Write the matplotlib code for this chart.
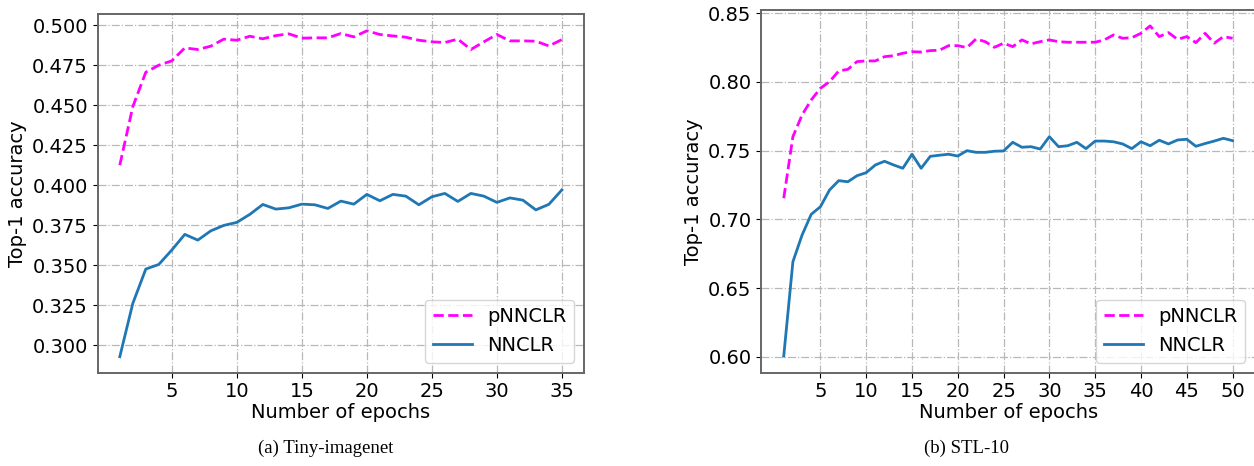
import numpy as np
import matplotlib
matplotlib.use("Agg")
import matplotlib.pyplot as plt

# Tiny-imagenet (35 epochs)
tiny_epochs = list(range(1, 36))
tiny_pnnclr = [0.4125, 0.449, 0.4706, 0.475, 0.4777, 0.4858, 0.4848, 0.4869, 0.4913, 0.4906,
               0.4931, 0.4915, 0.4935, 0.4946, 0.4919, 0.4921, 0.4921, 0.4948, 0.4927, 0.4965,
               0.4942, 0.4933, 0.4925, 0.4906, 0.4896, 0.4892, 0.4913, 0.4848, 0.4896, 0.4942,
               0.4902, 0.4902, 0.4900, 0.4870, 0.4910]
tiny_nnclr = [0.2927, 0.326, 0.3475, 0.3504, 0.3594, 0.3692, 0.3656, 0.3714, 0.3748, 0.3767,
              0.3817, 0.3879, 0.3850, 0.3858, 0.3881, 0.3877, 0.3854, 0.3900, 0.3881, 0.3942,
              0.3902, 0.3942, 0.3931, 0.3877, 0.3927, 0.3948, 0.3898, 0.3948, 0.3931, 0.3892,
              0.3920, 0.3906, 0.3845, 0.3880, 0.3970]

# STL-10 (50 epochs)
stl_epochs = list(range(1, 51))
stl_pnnclr = [0.7154, 0.7602, 0.776, 0.7869, 0.7954, 0.8002, 0.808, 0.8092, 0.8148, 0.8153,
              0.8153, 0.8184, 0.8191, 0.8209, 0.822, 0.8218, 0.8228, 0.8231, 0.8264, 0.8264,
              0.825, 0.8313, 0.8293, 0.8252, 0.8282, 0.8257, 0.8306, 0.8277, 0.8293, 0.8306,
              0.8293, 0.8289, 0.8289, 0.8289, 0.8289, 0.8306, 0.8342, 0.8318, 0.8322, 0.8354,
              0.8408, 0.833, 0.8359, 0.831, 0.833, 0.8286, 0.8354, 0.8282, 0.833, 0.8318]
stl_nnclr = [0.6006, 0.6692, 0.6886, 0.7037, 0.7092, 0.7214, 0.7282, 0.7274, 0.7318, 0.734,
             0.7396, 0.7423, 0.7396, 0.7372, 0.7474, 0.7372, 0.7459, 0.7467, 0.7474, 0.7461,
             0.75, 0.7488, 0.7488, 0.7496, 0.7498, 0.7561, 0.7525, 0.7529, 0.7512, 0.7602,
             0.7529, 0.7536, 0.7561, 0.7515, 0.757, 0.757, 0.7565, 0.7549, 0.7515, 0.7565,
             0.7536, 0.7576, 0.7549, 0.7578, 0.7583, 0.7532, 0.7552, 0.757, 0.759, 0.7573]

tiny_xticks = [5, 10, 15, 20, 25, 30, 35]
tiny_yticks = [0.300, 0.325, 0.350, 0.375, 0.400, 0.425, 0.450, 0.475, 0.500]
stl_xticks = [5, 10, 15, 20, 25, 30, 35, 40, 45, 50]
stl_yticks = [0.60, 0.65, 0.70, 0.75, 0.80, 0.85]

fig = plt.figure(figsize=(12.54, 4.66), dpi=100)
ax1 = fig.add_axes([0.0779, 0.2006, 0.3878, 0.7683])
ax2 = fig.add_axes([0.6071, 0.2006, 0.3937, 0.7769])

def draw(ax, epochs, p, n, xt, yt, fmt):
	ax.plot(epochs, p, color='magenta', linestyle='--', linewidth=2, label="pNNCLR")
	ax.plot(epochs, n, color='#1f77b4', linewidth=2, label="NNCLR")
	ax.set_xticks(xt)
	ax.set_yticks(yt)
	ax.set_yticklabels([fmt % v for v in yt])
	ax.tick_params(labelsize=14)
	ax.grid(True, linestyle='-.', color='#b8b8b8', linewidth=0.9)
	for s in ax.spines.values():
		s.set_color('#666666')
		s.set_linewidth(1.4)
	ax.set_xlabel("Number of epochs", fontsize=14, labelpad=1)
	ax.set_ylabel("Top-1 accuracy", fontsize=14)
	ax.legend(loc='lower right', fontsize=14)

draw(ax1, tiny_epochs, tiny_pnnclr, tiny_nnclr, tiny_xticks, tiny_yticks, "%.3f")
draw(ax2, stl_epochs, stl_pnnclr, stl_nnclr, stl_xticks, stl_yticks, "%.2f")
ax1.set_xlim(-0.7, 36.7)
ax1.set_ylim(0.2828, 0.5067)
ax2.set_xlim(-1.45, 52.45)
ax2.set_ylim(0.5886, 0.852)

fig.text(326 / 1254, 1 - 448 / 466, "(a) Tiny-imagenet", ha='center', va='center',
	fontsize=13.5, family='Liberation Serif')
fig.text(966 / 1254, 1 - 448 / 466, "(b) STL-10", ha='center', va='center',
	fontsize=13.5, family='Liberation Serif')

fig.savefig("out.png", dpi=100)
